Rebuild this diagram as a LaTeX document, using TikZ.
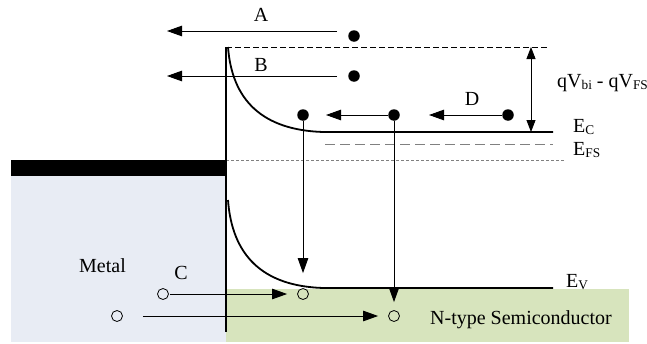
\documentclass[tikz,border=0pt]{standalone}
\usepackage{fontspec}
\setmainfont{Liberation Serif}
\usetikzlibrary{arrows.meta}
\definecolor{metalfill}{HTML}{E8ECF4}
\definecolor{semifill}{HTML}{D7E4BD}
\newcommand\sbs[1]{\raisebox{-2pt}{\fontsize{13.3}{13}\selectfont #1}}
\begin{document}
\begin{tikzpicture}[x=1pt,y=-1pt,
  font=\fontsize{20}{22}\selectfont,
  elec/.style={circle,fill=black,minimum size=11.5pt,inner sep=0pt},
  hole/.style={circle,draw=black,line width=0.8pt,minimum size=11pt,inner sep=0pt},
  lbl/.style={inner sep=0pt},
  arr/.style={line width=0.9pt,-{Triangle[length=15pt,width=10.5pt]}},
  band/.style={line width=1.8pt},
]
\useasboundingbox (0,0) rectangle (647,343);
% regions
\fill[metalfill] (11,176) rectangle (226,342);
\fill[semifill] (226,289) rectangle (629,342);
\fill[black] (11,160) rectangle (226,176);
% band lines
\draw[dash pattern=on 6pt off 3pt, line width=0.8pt] (226,47) -- (547,47);
\draw[gray, dash pattern=on 10pt off 5pt, line width=1pt] (325,144) -- (553,144);
\draw[gray, dash pattern=on 3pt off 2pt, line width=1pt] (226,160) -- (565,160);
\draw[band] (228,47) .. controls (232,100) and (262,130) .. (323,132) -- (553,132);
\draw[band] (228,200) .. controls (232,255) and (262,286) .. (323,288) -- (553,288);
\draw[line width=2pt] (226,47) -- (226,332);
% barrier height arrow
\coordinate (vt) at (531,47);
\coordinate (vb) at (531,132);
\draw[line width=0.9pt,{Triangle[length=12pt,width=9pt]}-{Triangle[length=12pt,width=9pt]}] (vt) -- (vb);
% carriers
\node[elec] (eA) at (354,36) {};
\node[elec] (eB) at (354,76) {};
\node[elec] (e1) at (303,115) {};
\node[elec] (e2) at (394,115) {};
\node[elec] (eD) at (508,115) {};
\node[hole] (h0) at (163,294) {};
\node[hole] (h1) at (303,294) {};
\node[hole] (h2) at (117,316) {};
\node[hole] (h3) at (394,316) {};
\coordinate (aS) at (337,31);
\coordinate (aE) at (167,31);
\coordinate (bE) at (167,76);
\coordinate (eTip) at (326,115);
\coordinate (dTip) at (429,115);
% arrows
\draw[arr] (aS) -- (aE);
\draw[arr] ([xshift=-11pt]eB.west) -- (bE);
\draw[arr] (eD.west) -- (dTip);
\draw[arr] (e2.west) -- (eTip);
\draw[arr] (e1) -- ([yshift=15pt]h1.north);
\draw[arr] (e2) -- ([yshift=8pt]h3.north);
\draw[arr] ([xshift=1.5pt]h0.east) -- ([xshift=-10pt]h1.west);
\draw[arr] ([xshift=20pt]h2.east) -- ([xshift=-10pt]h3.west);
% labels
\node[lbl,anchor=base] (lA) at (261,21) {A};
\node[lbl,anchor=base] (lB) at (261,71) {B};
\node[lbl,anchor=base] (lD) at (472,105) {D};
\node[lbl,anchor=base] (lC) at (181,279) {C};
\node[lbl,anchor=base west] (lm) at (79,272) {Metal};
\node[lbl,anchor=base west] (ls) at (430,324) {N-type Semiconductor};
\node[lbl,anchor=base west] (lEC) at (573,132) {E\sbs{C}};
\node[lbl,anchor=base west] (lEFS) at (573,155) {E\sbs{FS}};
\node[lbl,anchor=base west] (lEV) at (566,287) {E\sbs{V}};
\node[lbl,anchor=base west] (lq) at (557,87) {qV\sbs{bi} - qV\sbs{FS}};
\end{tikzpicture}
\end{document}
